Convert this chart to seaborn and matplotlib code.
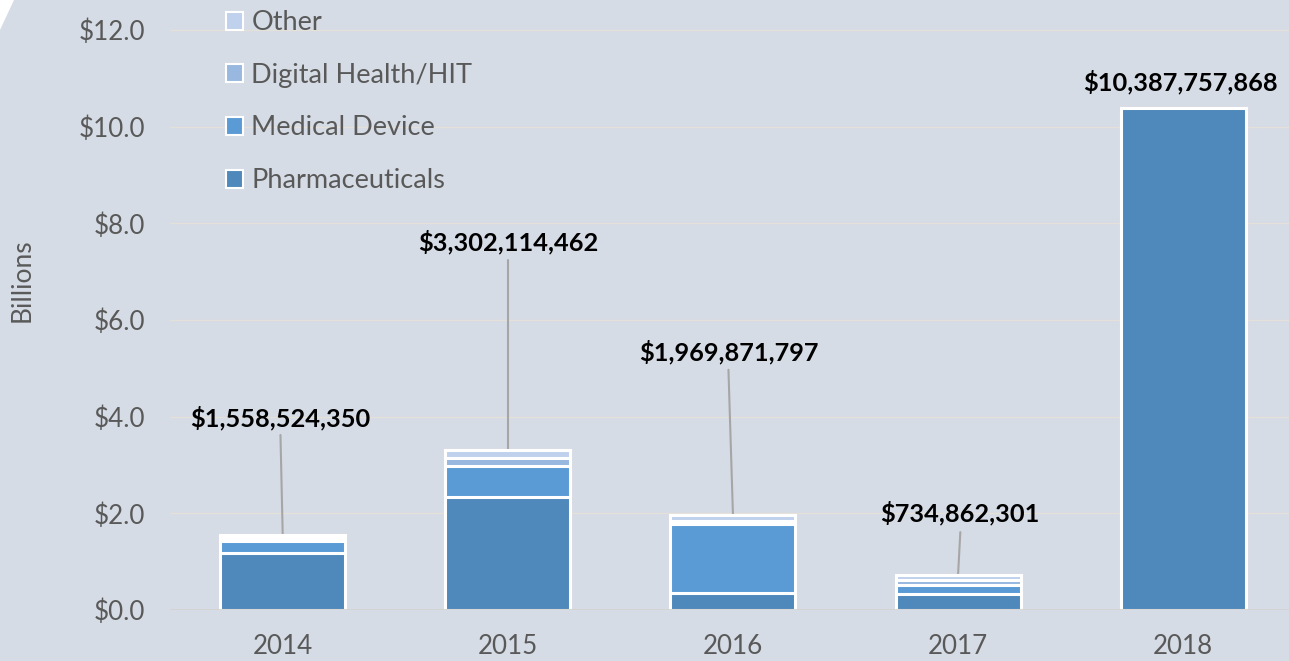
import matplotlib
matplotlib.use("Agg")
import matplotlib.pyplot as plt
import matplotlib.patches as mpatches
import seaborn as sns
import pandas as pd

# Investment by sector, billions of dollars
years = ["2014", "2015", "2016", "2017", "2018"]
pharma = [1.18, 2.33, 0.35, 0.33, 10.39]
medical = [0.24, 0.65, 1.42, 0.19, 0.0]
digital = [0.07, 0.16, 0.07, 0.10, 0.0]
other = [0.07, 0.16, 0.13, 0.11, 0.0]
totals = [1558524350, 3302114462, 1969871797, 734862301, 10387757868]

sectors = ["Other", "Digital Health/HIT", "Medical Device", "Pharmaceuticals"]
colors = {"Pharmaceuticals": "#4f89bb", "Medical Device": "#5b9bd5",
          "Digital Health/HIT": "#98b8e0", "Other": "#bfd1ec"}

df = pd.DataFrame({"year": years, "Pharmaceuticals": pharma,
                   "Medical Device": medical, "Digital Health/HIT": digital,
                   "Other": other})
# cumulative heights so the stack can be drawn from the top layer down
df["cum_pharma"] = df["Pharmaceuticals"]
df["cum_medical"] = df["cum_pharma"] + df["Medical Device"]
df["cum_digital"] = df["cum_medical"] + df["Digital Health/HIT"]
df["cum_other"] = df["cum_digital"] + df["Other"]

sns.set_style("white")
plt.rcParams["font.family"] = ["Lato", "DejaVu Sans"]
bg = "#d6dce5"

fig = plt.figure(figsize=(12.89, 6.61), dpi=100, facecolor=bg)
ax = fig.add_axes([0.132, 0.0772, 0.868, 0.9228])
ax.set_facecolor(bg)

for col, name in [("cum_other", "Other"), ("cum_digital", "Digital Health/HIT"),
                  ("cum_medical", "Medical Device"), ("cum_pharma", "Pharmaceuticals")]:
    sns.barplot(data=df, x="year", y=col, color=colors[name], saturation=1,
                width=0.555, edgecolor="white", linewidth=2.2, ax=ax, zorder=3)

ax.set_ylim(0, 12.62)
ax.set_xlim(-0.5, 4.47)
ax.set_yticks([0, 2, 4, 6, 8, 10, 12])
ax.set_yticklabels([f"${v:.1f}" for v in [0, 2, 4, 6, 8, 10, 12]])
ax.yaxis.grid(True, color="#e4e0da", linewidth=1, zorder=0)
ax.set_axisbelow(True)
for s in ax.spines.values():
    s.set_visible(False)
ax.axhline(0, color="#d3d3d3", linewidth=2, zorder=4)
ax.tick_params(axis="both", length=0, labelsize=18.7, labelcolor="#595959")
ax.tick_params(axis="y", pad=18)
ax.tick_params(axis="x", pad=17)
ax.set_xlabel("")
ax.set_ylabel("")

fig.text(22 / 1289, 1 - 280 / 661, "Billions", rotation=90, ha="center",
         va="center", fontsize=19, color="#595959")

# total labels with leader lines: (x offset, text y, line start y)
label_pos = [(-0.01, 3.97, 3.62), (0.0, 7.61, 7.24), (-0.02, 5.34, 4.97),
             (0.01, 2.0, 1.61), (-0.01, 10.92, None)]
for i, (dx, ly, line_y) in enumerate(label_pos):
    top = df["cum_other"][i]
    ax.text(i + dx, ly, f"${totals[i]:,}", ha="center", va="center",
            fontsize=18.3, fontweight="bold", color="black", zorder=6)
    if line_y is not None:
        ax.plot([i + dx, i], [line_y, top], color="#a6a6a6", linewidth=1.5, zorder=2)

handles = [mpatches.Patch(facecolor=colors[s], edgecolor="white", linewidth=1.5,
                          label=s) for s in sectors]
fig.legend(handles=handles, loc="upper left", bbox_to_anchor=(212 / 1289, 1.005),
           frameon=False, fontsize=19.5, labelcolor="#595959", handlelength=0.65,
           handleheight=0.65, handletextpad=0.3, labelspacing=1.02, borderpad=0)

# white corner decoration at the top left
fig.patches.append(mpatches.Polygon([(0, 1), (14 / 1289, 1), (0, 1 - 30 / 661)],
                                    closed=True, transform=fig.transFigure,
                                    facecolor="white", edgecolor="none"))

fig.savefig("out.png", dpi=100, facecolor=bg)
